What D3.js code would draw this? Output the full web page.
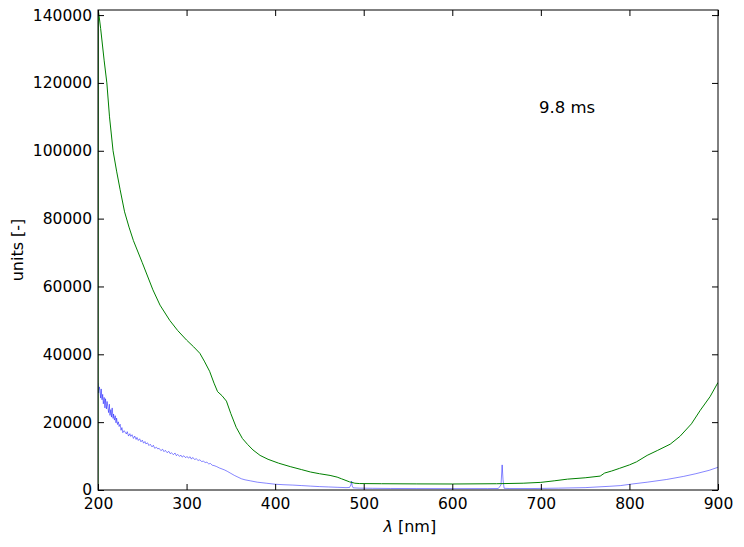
<!DOCTYPE html>
<html><head><meta charset="utf-8">
<script src="https://cdn.jsdelivr.net/npm/d3@7"></script>
<style>body{margin:0;background:#fff}svg text{font-family:"DejaVu Sans",sans-serif;}</style>
</head><body><svg id="c" width="744" height="547"></svg>
<script>
const xTicks=[200,300,400,500,600,700,800,900];
const yTicks=[0,20000,40000,60000,80000,100000,120000,140000];
const greenNm=[200,200.4,203,207,210,213,217,221,225,230,235,240,250,262,270,281,290,300,308,315,320,326,331,335,340,345,350,356,363,369,375,383,392,404,417,430,440,450,462,470,475,480,484,490,495,520,560,600,650,680,700,715,730,750,767,772,780,789,800,808,820,832,846,857,870,880,891,900];
const greenVal=[0,141500,136000,126500,120000,110000,100000,94000,88500,82000,77500,73500,67000,59000,54500,50000,47000,44200,42200,40300,38000,35000,31500,29000,27800,26200,22500,18500,15200,13400,11800,10200,9050,7900,6900,6000,5300,4800,4300,3800,3300,2800,2400,2000,1900,1850,1800,1770,1850,2000,2250,2700,3200,3600,4100,5000,5600,6400,7400,8300,10200,11700,13500,15800,19500,23500,27500,31700];
const blueNm=[200,200.7,201.5,202.2,203,203.6,204.5,205.3,206,207,207.8,208.5,209.5,210.3,211,212,212.8,213.5,214.5,215.2,216,217,217.6,218.5,219.5,220.3,221,222,223,223.8,225,226,227,228,229.5,230.5,232,233,234.5,236,237,238.5,240,241.5,243,244,245.5,247,248.5,250,251.5,253,254,256,257.5,259,261,262.5,264,266,267.5,269,271,273,274.5,276,278,280,281.5,283,285,287,288.5,290,292,293.5,295,297,299,300.5,302,304,305.5,307,309,311,313,315,317,319,321,323,325,327,329,331,334,337,340,343,346,350,354,358,362,366,372,380,390,400,410,420,430,440,450,460,470,480,484,485.5,486.3,487,488,495,510,530,560,600,640,652,655,656.3,657.3,658.5,665,690,720,750,778,790,804,820,842,861,875,890,900];
const blueVal=[31500,28600,30400,29300,27100,29800,26600,28200,25400,27300,24200,26900,23900,26100,24600,22800,25300,22000,23700,21500,24200,21100,22400,20600,21900,19800,21200,19300,20100,18700,19400,17600,18400,16900,17500,17100,16500,17200,15900,16600,15800,16300,15200,15900,14900,15500,14600,15100,14200,14700,13800,14300,13600,13900,13100,13500,12700,13200,12300,12600,12100,12300,11600,12000,11300,11700,11000,11400,10700,11000,10400,10900,10100,10500,9900,10300,9700,10100,9500,9900,9400,9800,9100,9600,9000,9200,8700,8900,8400,8500,8100,8200,7700,7800,7300,7200,6900,6500,6200,5900,5500,4900,4300,3800,3300,3000,2700,2300,2000,1700,1550,1450,1300,1150,1000,900,800,700,750,1500,2600,1200,650,550,500,450,420,400,420,450,1500,7400,3000,500,430,430,550,700,1100,1300,1800,2300,3100,4000,4800,5800,6700];

const svg=d3.select("#c");
const m={l:98,t:10,w:620,h:480};
const x=d3.scaleLinear().domain([200,900]).range([m.l,m.l+m.w]);
const y=d3.scaleLinear().domain([0,141500]).range([m.t+m.h,m.t]);
svg.append("defs").append("clipPath").attr("id","cp").append("rect").attr("x",m.l).attr("y",m.t).attr("width",m.w).attr("height",m.h);
const line=d3.line().x(d=>x(d[0])).y(d=>y(d[1]));
const g=svg.append("g").attr("clip-path","url(#cp)");
g.append("path").datum(blueNm.map((n,i)=>[n,blueVal[i]])).attr("d",line).attr("fill","none").attr("stroke","#0000ff").attr("stroke-opacity",0.6).attr("stroke-width",0.8);
g.append("path").datum(greenNm.map((n,i)=>[n,greenVal[i]])).attr("d",line).attr("fill","none").attr("stroke","#008000").attr("stroke-width",1);

const fs="15.5px";
const bx=d3.axisBottom(x).tickValues(xTicks).tickSizeInner(-6).tickSizeOuter(0).tickPadding(8);
const gb=svg.append("g").attr("transform",`translate(0,${m.t+m.h})`).call(bx);
const tx=d3.axisTop(x).tickValues(xTicks).tickSizeInner(-6).tickSizeOuter(0).tickFormat("");
const gt=svg.append("g").attr("transform",`translate(0,${m.t})`).call(tx);
const ly=d3.axisLeft(y).tickValues(yTicks).tickSizeInner(-6).tickSizeOuter(0).tickPadding(6).tickFormat(d3.format("d"));
const gl=svg.append("g").attr("transform",`translate(${m.l},0)`).call(ly);
const ry=d3.axisRight(y).tickValues(yTicks).tickSizeInner(-6).tickSizeOuter(0).tickFormat("");
const gr=svg.append("g").attr("transform",`translate(${m.l+m.w},0)`).call(ry);
[gb,gt,gl,gr].forEach(a=>{a.select(".domain").remove();a.selectAll("line").attr("stroke","#000");a.selectAll("text").attr("font-size",fs).attr("fill","#000").attr("font-family","DejaVu Sans");});
gb.selectAll("text").attr("dy","0.71em").attr("y",8);
svg.append("rect").attr("x",m.l).attr("y",m.t).attr("width",m.w).attr("height",m.h).attr("fill","none").attr("stroke","#000").attr("stroke-width",1);

const xl=svg.append("text").attr("x",x(552)).attr("y",532).attr("text-anchor","middle").attr("font-size","16px");
xl.append("tspan").attr("font-style","italic").text("λ");
xl.append("tspan").text(" [nm]");
svg.append("text").attr("transform",`translate(23,${m.t+m.h/2}) rotate(-90)`).attr("text-anchor","middle").attr("font-size","16px").text("units [-]");
svg.append("text").attr("x",539).attr("y",113).attr("font-size","16.5px").text("9.8 ms");
</script></body></html>
